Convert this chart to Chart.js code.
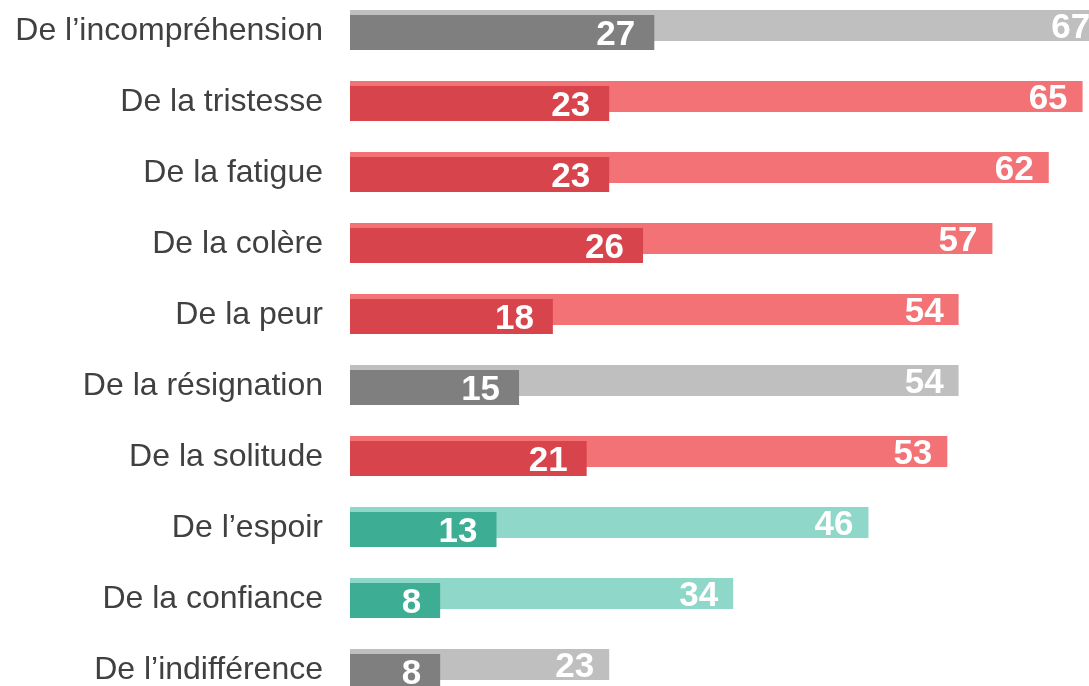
<!DOCTYPE html>
<html>
<head>
<meta charset="utf-8">
<script src="https://cdn.jsdelivr.net/npm/chart.js@4/dist/chart.umd.min.js"></script>
<style>
  html, body { margin: 0; padding: 0; background: #fff; }
  #wrap { width: 1089px; height: 686px; position: relative; }
</style>
</head>
<body>
<div id="wrap"><canvas id="chart"></canvas></div>
<script>
// categories, top to bottom
const labels = [
  "De l’incompréhension",
  "De la tristesse",
  "De la fatigue",
  "De la colère",
  "De la peur",
  "De la résignation",
  "De la solitude",
  "De l’espoir",
  "De la confiance",
  "De l’indifférence",
];
// light (back) bars and dark (front) bars
const totalValues = [67, 65, 62, 57, 54, 54, 53, 46, 34, 23];
const firstValues = [27, 23, 23, 26, 18, 15, 21, 13, 8, 8];
// colour group per row: g = grey, r = red, t = teal
const groups = ["g", "r", "r", "r", "r", "g", "r", "t", "t", "g"];

const DARK = { g: "#7f7f7f", r: "#d8444b", t: "#3dae94" };
const LIGHT = { g: "#bfbfbf", r: "#f27276", t: "#8fd7c9" };

// back bars take the upper slot of each row but must sit underneath,
// so draw the datasets ourselves in that order (no clipping), then the white numbers
const overlapDraw = {
  id: "overlapDraw",
  beforeDatasetsDraw(chart) {
    chart.getDatasetMeta(0).controller.draw();
    chart.getDatasetMeta(1).controller.draw();

    const ctx = chart.ctx;
    ctx.save();
    ctx.font = "bold 35px 'Liberation Sans', Arial, sans-serif";
    ctx.fillStyle = "#ffffff";
    ctx.textAlign = "right";
    ctx.textBaseline = "middle";
    chart.data.datasets.forEach((ds, di) => {
      const meta = chart.getDatasetMeta(di);
      const inset = di === 0 ? 15 : 19;
      meta.data.forEach((bar, i) => {
        ctx.fillText(String(ds.data[i]), bar.x - inset, bar.y + 3);
      });
    });
    ctx.restore();
    return false;
  },
};

const ctx = document.getElementById("chart");
new Chart(ctx, {
  type: "bar",
  data: {
    labels: labels,
    datasets: [
      {
        label: "Total",
        data: totalValues,
        backgroundColor: groups.map((g) => LIGHT[g]),
        categoryPercentage: 14 / 71,
        barPercentage: 31 / 7,
      },
      {
        label: "Premier",
        data: firstValues,
        backgroundColor: groups.map((g) => DARK[g]),
        categoryPercentage: 14 / 71,
        barPercentage: 35 / 7,
      },
    ],
  },
  options: {
    indexAxis: "y",
    responsive: true,
    maintainAspectRatio: false,
    animation: false,
    // rows are 71px apart; first row centred at y=29, last at y=668
    layout: { padding: { top: 29, bottom: 18, left: 0, right: 0 } },
    scales: {
      x: {
        display: false,
        min: 0,
        max: 65.57,
      },
      y: {
        offset: false,
        grid: { display: false, drawTicks: false },
        border: { display: false },
        ticks: {
          color: "#404040",
          padding: 27,
          labelOffset: 2,
          font: { family: "'Liberation Sans', Arial, sans-serif", size: 32 },
        },
        afterFit(scale) {
          scale.width = 350;
          scale.paddingTop = 0;
          scale.paddingBottom = 0;
        },
      },
    },
    plugins: {
      legend: { display: false },
      tooltip: { enabled: false },
    },
  },
  plugins: [overlapDraw],
});
</script>
</body>
</html>
